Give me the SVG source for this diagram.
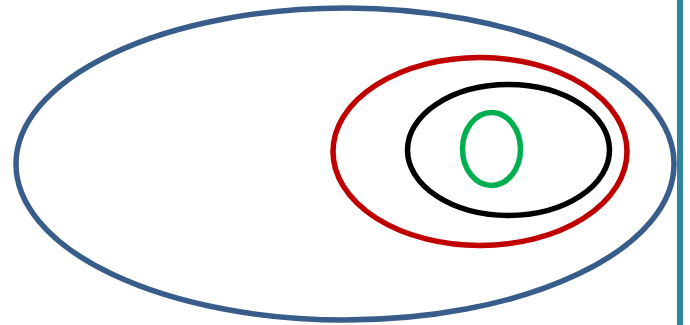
<svg xmlns="http://www.w3.org/2000/svg" width="690" height="325" viewBox="0 0 690 325">
<style>
.e{fill:none;stroke-width:5.5}
</style>
<rect x="0" y="0" width="690" height="325" fill="#ffffff"/>
<rect id="bar" x="677" y="0" width="6" height="325" fill="#31849B"/>
<g id="outer"><ellipse class="e" cx="345" cy="164" rx="329" ry="156" stroke="#385D8A"/></g>
<g id="red"><ellipse class="e" cx="480" cy="151.5" rx="147" ry="94" stroke="#C00000"/></g>
<g id="black"><ellipse class="e" cx="508.5" cy="150" rx="101" ry="65.5" stroke="#000000"/></g>
<g id="green"><ellipse class="e" cx="491.5" cy="149" rx="29" ry="36.5" stroke="#00B050"/></g>
<g id="connectors"></g>
</svg>
